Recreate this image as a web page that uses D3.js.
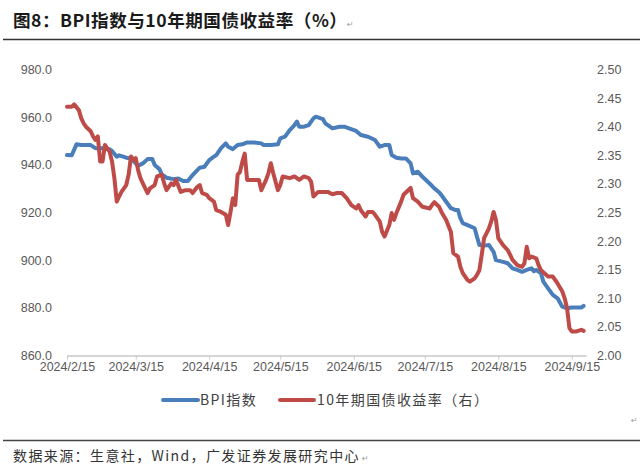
<!DOCTYPE html>
<html><head><meta charset="utf-8">
<script src="https://cdn.jsdelivr.net/npm/d3@7"></script>
<style>
html,body{margin:0;padding:0;background:#fff;}
svg{display:block;}
</style></head>
<body>
<svg id="chart" width="640" height="475"></svg>
<script>
const titleText = "图8：BPI指数与10年期国债收益率（%）";
const sourceText = "数据来源：生意社，Wind，广发证券发展研究中心";
const seriesNames = ["BPI指数", "10年期国债收益率（右）"];
const xTickLabels = ["2024/2/15","2024/3/15","2024/4/15","2024/5/15","2024/6/15","2024/7/15","2024/8/15","2024/9/15"];
const leftTicks = [860, 880, 900, 920, 940, 960, 980];
const rightTicks = [2.00, 2.05, 2.10, 2.15, 2.20, 2.25, 2.30, 2.35, 2.40, 2.45, 2.50];

const bpiDates = ["02-15","02-17","02-19","02-21","02-25","02-27","03-01","03-04","03-05","03-07","03-08","03-11","03-13","03-16","03-18","03-20","03-22","03-23","03-25","03-26","03-28","03-31","04-02","04-04","04-06","04-08","04-10","04-11","04-13","04-15","04-17","04-18","04-20","04-22","04-23","04-25","04-27","04-29","05-01","05-04","05-07","05-08","05-11","05-14","05-15","05-17","05-19","05-21","05-22","05-23","05-25","05-27","05-29","05-30","06-02","06-03","06-06","06-09","06-11","06-13","06-16","06-18","06-21","06-24","06-26","06-28","06-30","07-01","07-03","07-05","07-07","07-09","07-10","07-12","07-14","07-17","07-19","07-21","07-22","07-24","07-26","07-28","07-29","07-30","07-31","08-02","08-05","08-06","08-07","08-09","08-11","08-13","08-14","08-17","08-19","08-21","08-23","08-25","08-27","08-29","08-30","08-31","09-02","09-03","09-05","09-07","09-09","09-11","09-13","09-15","09-19","09-20"];
const bpiValues = [944.1,944,948.6,948.3,948.3,947,947,946.5,945.8,943.4,944,943,942.7,939.6,940.6,942.4,942.4,939.9,938.2,936,934.6,934,934.3,933.2,933.2,935.7,937.8,938.8,939.2,942,943.4,944.1,947,949,947.6,946.6,948.3,948.6,949.4,949.4,949,948.3,948.3,948.6,951.1,951.8,954.6,956.7,958.1,956,956,956.7,959.5,960.2,959.2,957.4,955.3,956,956,955.3,954.2,952.5,951.8,950.4,947.6,948.3,948.3,944.1,943,942.7,942.7,940.6,936.4,937.1,935,932.2,930.1,928.5,927.3,924.5,921.8,921,921,917.6,915.5,914.7,913.4,909.8,906.4,906.1,906.4,903.5,900,899.3,898.7,896.6,895.9,895.1,895.9,896.6,895.4,895.9,894.5,891,888.2,885.4,884,880.5,879.8,880.1,880.1,880.8];

const yieldDates = ["02-15","02-17","02-18","02-20","02-21","02-22","02-23","02-25","02-26","02-27","02-28","02-29","03-01","03-02","03-03","03-04","03-05","03-06","03-07","03-08","03-09","03-11","03-12","03-13","03-14","03-15","03-16","03-17","03-18","03-20","03-21","03-23","03-24","03-26","03-27","03-28","03-30","03-31","04-01","04-03","04-05","04-07","04-08","04-10","04-11","04-12","04-14","04-15","04-17","04-18","04-20","04-22","04-23","04-24","04-25","04-26","04-27","04-28","04-29","04-30","05-01","05-02","05-06","05-07","05-09","05-10","05-11","05-12","05-14","05-15","05-16","05-19","05-21","05-23","05-25","05-27","05-28","05-29","05-31","06-02","06-04","06-06","06-08","06-10","06-12","06-14","06-16","06-17","06-18","06-20","06-21","06-23","06-24","06-26","06-27","06-28","06-30","07-01","07-02","07-03","07-05","07-06","07-08","07-09","07-10","07-12","07-14","07-17","07-18","07-19","07-21","07-22","07-24","07-26","07-27","07-29","07-30","07-31","08-02","08-03","08-05","08-06","08-07","08-08","08-09","08-11","08-12","08-13","08-14","08-15","08-16","08-17","08-19","08-20","08-21","08-23","08-25","08-26","08-27","08-28","08-29","08-31","09-01","09-02","09-05","09-07","09-08","09-09","09-11","09-12","09-13","09-14","09-15","09-17","09-19","09-20"];
const yieldValues = [2.435,2.435,2.439,2.429,2.415,2.406,2.400,2.392,2.383,2.377,2.383,2.339,2.339,2.368,2.362,2.356,2.339,2.310,2.269,2.278,2.286,2.298,2.316,2.348,2.342,2.345,2.324,2.310,2.301,2.284,2.292,2.298,2.313,2.316,2.301,2.289,2.301,2.298,2.307,2.286,2.289,2.289,2.284,2.295,2.298,2.284,2.281,2.275,2.269,2.254,2.251,2.246,2.228,2.251,2.275,2.263,2.316,2.321,2.339,2.353,2.307,2.307,2.307,2.289,2.307,2.319,2.336,2.319,2.289,2.298,2.313,2.310,2.313,2.307,2.313,2.310,2.304,2.278,2.286,2.286,2.286,2.282,2.284,2.284,2.275,2.263,2.257,2.263,2.254,2.243,2.251,2.251,2.246,2.234,2.216,2.208,2.228,2.249,2.237,2.249,2.269,2.281,2.289,2.293,2.275,2.269,2.260,2.257,2.263,2.268,2.260,2.251,2.237,2.216,2.179,2.173,2.155,2.144,2.132,2.129,2.135,2.141,2.149,2.176,2.205,2.222,2.234,2.251,2.237,2.205,2.199,2.193,2.184,2.176,2.167,2.158,2.155,2.161,2.190,2.170,2.173,2.170,2.158,2.149,2.138,2.138,2.132,2.126,2.112,2.100,2.083,2.048,2.042,2.042,2.045,2.043];

const parse = d3.timeParse("%Y-%m-%d");
const toDate = s => parse("2024-" + s);
const tickParse = d3.timeParse("%Y/%m/%d");

const svg = d3.select("#chart");
const BLUE = "#4A7EBB", RED = "#BE4B48";

const x = d3.scaleTime().domain([toDate("02-15"), toDate("09-21")]).range([67, 586]);
const yL = d3.scaleLinear().domain([860, 980]).range([355.5, 69.5]);
const yR = d3.scaleLinear().domain([2.0, 2.5]).range([355.5, 69.5]);

// Title
svg.append("text").attr("x", 13).attr("y", 27)
  .attr("font-family", "'Noto Sans CJK SC', sans-serif").attr("font-weight", "bold")
  .attr("font-size", 17.6).attr("letter-spacing", 0.5).attr("fill", "#1a1a1a").text(titleText);
svg.append("line").attr("x1", 3).attr("x2", 640).attr("y1", 39.5).attr("y2", 39.5)
  .attr("stroke", "#333").attr("stroke-width", 1.5);

// Axes
const fontAx = "'Liberation Sans', Arial, sans-serif";
const gL = svg.append("g").attr("transform", "translate(55,0)")
  .call(d3.axisLeft(yL).tickValues(leftTicks).tickFormat(d3.format(".1f")).tickSize(0).tickPadding(3));
const gR = svg.append("g").attr("transform", "translate(594,0)")
  .call(d3.axisRight(yR).tickValues(rightTicks).tickFormat(d3.format(".2f")).tickSize(0).tickPadding(3));
[gL, gR].forEach(g => {
  g.select(".domain").remove();
  g.selectAll("text").attr("font-family", fontAx).attr("font-size", 12.5).attr("fill", "#595959");
});
const tickDates = xTickLabels.map(s => tickParse(s));
const gX = svg.append("g").attr("transform", "translate(0,355.5)")
  .call(d3.axisBottom(x).tickValues(tickDates).tickFormat((d, i) => xTickLabels[i]).tickSize(4).tickSizeOuter(0).tickPadding(3));
gX.select(".domain").attr("stroke", "#c8c8c8").attr("stroke-width", 1.5);
gX.selectAll(".tick line").attr("stroke", "#c8c8c8");
gX.selectAll("text").attr("font-family", fontAx).attr("font-size", 12.5).attr("fill", "#595959");

// Lines
const bpiData = bpiDates.map((d, i) => ({date: toDate(d), v: bpiValues[i]}));
const yieldData = yieldDates.map((d, i) => ({date: toDate(d), v: yieldValues[i]}));
svg.append("path").datum(bpiData)
  .attr("d", d3.line().x(d => x(d.date)).y(d => yL(d.v)))
  .attr("fill", "none").attr("stroke", BLUE).attr("stroke-width", 4)
  .attr("stroke-linejoin", "round").attr("stroke-linecap", "round");
svg.append("path").datum(yieldData)
  .attr("d", d3.line().x(d => x(d.date)).y(d => yR(d.v)))
  .attr("fill", "none").attr("stroke", RED).attr("stroke-width", 4)
  .attr("stroke-linejoin", "round").attr("stroke-linecap", "round");

// Legend
const fontCJK = "'Noto Sans CJK SC', sans-serif";
const legend = [{x1: 163, x2: 198, tx: 200, c: BLUE, t: seriesNames[0]},
                {x1: 280, x2: 314, tx: 317, c: RED, t: seriesNames[1]}];
legend.forEach(l => {
  svg.append("line").attr("x1", l.x1).attr("x2", l.x2).attr("y1", 400).attr("y2", 400)
    .attr("stroke", l.c).attr("stroke-width", 4).attr("stroke-linecap", "round");
  svg.append("text").attr("x", l.tx).attr("y", 405).attr("font-family", fontCJK)
    .attr("font-size", 14).attr("letter-spacing", 1.4).attr("fill", "#404040").text(l.t);
});

// Footer
svg.append("line").attr("x1", 3).attr("x2", 640).attr("y1", 440.5).attr("y2", 440.5)
  .attr("stroke", "#444").attr("stroke-width", 1.5);
svg.append("text").attr("x", 13).attr("y", 461).attr("font-family", fontCJK)
  .attr("font-size", 14).attr("letter-spacing", 1.4).attr("fill", "#333").text(sourceText);

// paragraph marks
[[347, 27], [631, 423], [362, 461]].forEach(p => {
  svg.append("text").attr("x", p[0]).attr("y", p[1]).attr("font-family", "'DejaVu Sans', sans-serif")
    .attr("font-size", 8).attr("fill", "#999").text("↵");
});
</script>
</body></html>
